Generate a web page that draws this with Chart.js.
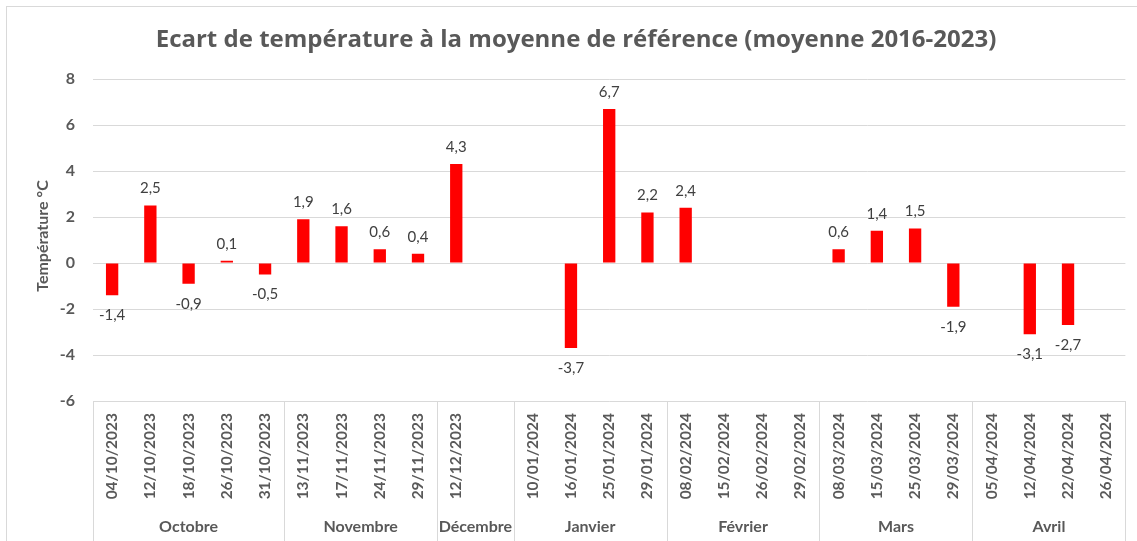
<!DOCTYPE html>
<html><head><meta charset="utf-8">
<script src="https://cdn.jsdelivr.net/npm/chart.js@4/dist/chart.umd.min.js"></script>
<style>
html,body{margin:0;padding:0;background:#fff;overflow:hidden;width:1137px;height:541px}
#frame{position:absolute;left:6px;top:6px;width:1140px;height:560px;border:1px solid #D9D9D9;box-sizing:border-box}
#wrap{position:absolute;left:0;top:0;width:1137px;height:541px}
</style></head><body>
<div id="frame"></div>
<div id="wrap"><canvas id="c" width="1137" height="541"></canvas></div>
<script>
const categories = ['04/10/2023','12/10/2023','18/10/2023','26/10/2023','31/10/2023',
  '13/11/2023','17/11/2023','24/11/2023','29/11/2023',
  '12/12/2023','',
  '10/01/2024','16/01/2024','25/01/2024','29/01/2024',
  '08/02/2024','15/02/2024','26/02/2024','29/02/2024',
  '08/03/2024','15/03/2024','25/03/2024','29/03/2024',
  '05/04/2024','12/04/2024','22/04/2024','26/04/2024'];
const values = [-1.4, 2.5, -0.9, 0.1, -0.5,
  1.9, 1.6, 0.6, 0.4,
  4.3, null,
  null, -3.7, 6.7, 2.2,
  2.4, null, null, null,
  0.6, 1.4, 1.5, -1.9,
  null, -3.1, -2.7, null];
const monthNames = ['Octobre','Novembre','Décembre','Janvier','Février','Mars','Avril'];
const monthSpans = [5, 4, 2, 4, 4, 4, 4];
const yMin = -6, yMax = 8, yStep = 2;
const chartTitle = 'Ecart de température à la moyenne de référence (moyenne 2016-2023)';
const yTitle = 'Température °C';

const FONT = 'Lato, "Liberation Sans", sans-serif';
const TFONT = '"Open Sans", Lato, sans-serif';
const GRID = '#D9D9D9';
const TXT = '#595959';

const fmt = v => v.toFixed(1).replace('.', ',');

const extras = {
  id: 'extras',
  afterDraw(chart) {
    const ctx = chart.ctx;
    const ca = chart.chartArea;
    const xs = chart.scales.x;
    const n = categories.length;
    const w = (ca.right - ca.left) / n;
    ctx.save();
    // title
    ctx.fillStyle = TXT;
    ctx.font = 'bold 24px ' + TFONT;
    ctx.textAlign = 'center';
    ctx.textBaseline = 'middle';
    ctx.fillText(chartTitle, 576, 40);
    // y title
    ctx.save();
    ctx.translate(43, 236);
    ctx.rotate(-Math.PI / 2);
    ctx.font = 'bold 16px ' + FONT;
    ctx.fillText(yTitle, 0, 0);
    ctx.restore();
    // group separators and month labels
    ctx.strokeStyle = GRID;
    ctx.lineWidth = 1;
    const bottom = chart.height;
    let idx = 0;
    const edges = [0];
    monthSpans.forEach(s => { idx += s; edges.push(idx); });
    edges.forEach(e => {
      const x = Math.round(xs.getPixelForValue(Math.min(e, n - 1)) + (e >= n ? w / 2 : -w / 2)) + 0.5;
      ctx.beginPath();
      ctx.moveTo(x, ca.bottom);
      ctx.lineTo(x, bottom);
      ctx.stroke();
    });
    ctx.font = 'bold 16px ' + FONT;
    ctx.fillStyle = TXT;
    for (let g = 0; g < monthNames.length; g++) {
      const a = xs.getPixelForValue(edges[g]) - w / 2;
      const b = xs.getPixelForValue(edges[g + 1] - 1) + w / 2;
      ctx.fillText(monthNames[g], (a + b) / 2, 527);
    }
    // data labels
    const meta = chart.getDatasetMeta(0);
    ctx.font = '15px ' + FONT;
    ctx.fillStyle = '#404040';
    meta.data.forEach((el, i) => {
      const v = values[i];
      if (v === null || v === undefined) return;
      const y = v >= 0 ? el.y - 17 : el.y + 20;
      ctx.fillText(fmt(v), el.x, y);
    });
    ctx.restore();
  }
};

new Chart(document.getElementById('c'), {
  type: 'bar',
  data: {
    labels: categories,
    datasets: [{
      data: values,
      backgroundColor: '#FF0000',
      borderWidth: 0,
      barPercentage: 0.62,
      categoryPercentage: 0.52
    }]
  },
  options: {
    responsive: false,
    animation: false,
    devicePixelRatio: 1,
    layout: { padding: { left: 0, right: 7, top: 79, bottom: 0 } },
    plugins: { legend: { display: false }, title: { display: false }, tooltip: { enabled: false } },
    scales: {
      x: {
        grid: { display: false, drawTicks: false },
        border: { display: false },
        ticks: {
          autoSkip: false, maxRotation: 90, minRotation: 90, padding: 12,
          color: TXT, font: { family: FONT, size: 15.5, weight: 'bold' }
        },
        afterFit(s) { s.height = 140; }
      },
      y: {
        min: yMin, max: yMax,
        grid: { color: GRID, lineWidth: 1, drawTicks: false },
        border: { display: false },
        ticks: {
          stepSize: yStep, padding: 18, color: TXT,
          font: { family: FONT, size: 16, weight: 'bold' }
        },
        afterFit(s) { s.width = 93; }
      }
    }
  },
  plugins: [extras]
});
</script>
</body></html>
